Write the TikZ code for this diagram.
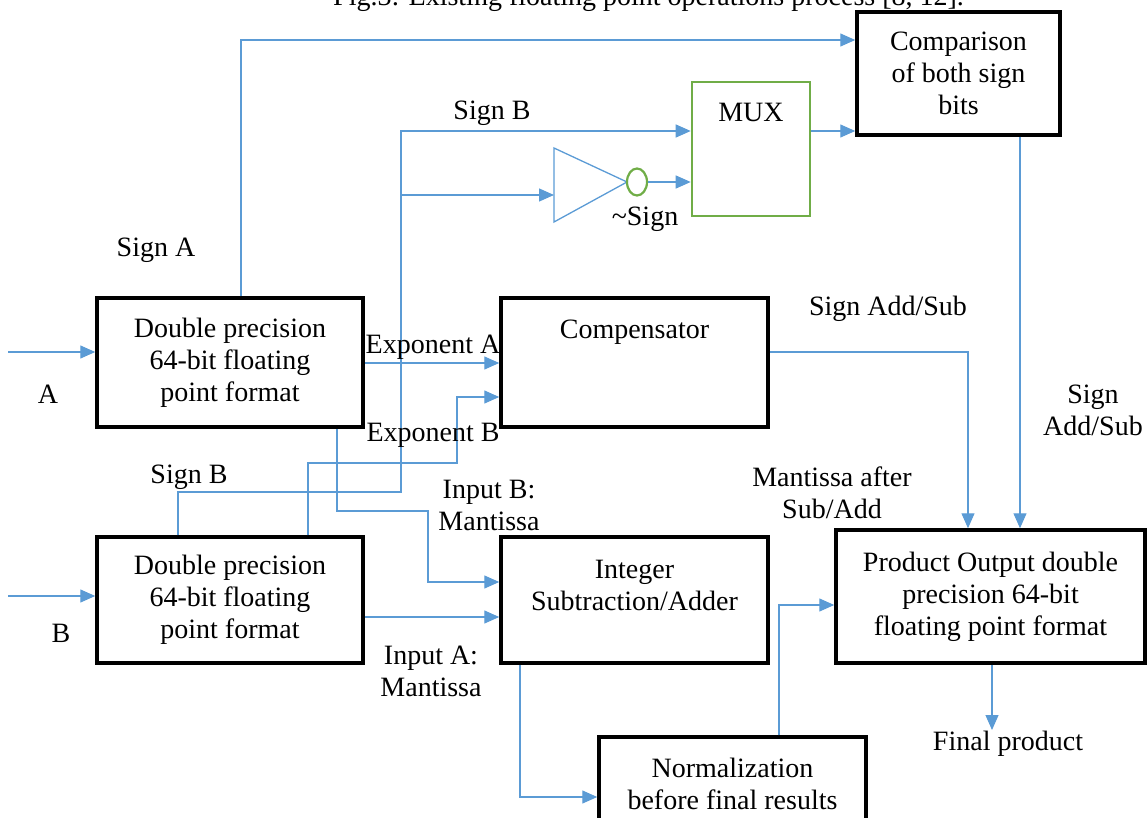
\documentclass[tikz,border=0pt]{standalone}
\usepackage{fontspec}
\setmainfont{Liberation Serif}
\usetikzlibrary{arrows.meta,shapes.geometric}
\definecolor{flowblue}{HTML}{5B9BD5}
\definecolor{muxgreen}{HTML}{70AD47}
\begin{document}
\begin{tikzpicture}[x=1pt,y=-1pt,
  font=\fontsize{28}{32}\selectfont,
  blk/.style={draw=black, line width=3.5pt, inner sep=0pt, align=center},
  wire/.style={draw=flowblue, line width=1.3pt},
  flow/.style={wire, -{Triangle[length=15pt,width=13pt]}},
  lbl/.style={inner sep=0pt, align=center},
]
\useasboundingbox (0,0) rectangle (1148,818);
\clip (0,0) rectangle (1148,818);

% caption (runs off the top edge)
\node[lbl, anchor=base west] (cap) at (333,6) {Fig.3: Existing floating point operations process [8, 12].};

% processing blocks
\node[blk, minimum width=266, minimum height=129] (fa) at (230,362.5) {Double precision\\64-bit floating\\point format};
\node[blk, minimum width=266, minimum height=126] (fb) at (230,600) {Double precision\\64-bit floating\\point format};
\node[blk, minimum width=267, minimum height=129] (comp) at (634.5,362.5) {};
\node[lbl] (compT) at (634.5,332) {Compensator};
\node[blk, minimum width=267, minimum height=126] (intg) at (634.5,600) {};
\node[lbl] (intgT) at (634.5,585) {Integer\\Subtraction/Adder};
\node[blk, minimum width=267, minimum height=85] (norm) at (732.5,779.5) {};
\node[lbl] (normT) at (732.5,784) {Normalization\\before final results};
\node[blk, minimum width=309, minimum height=133] (prod) at (990.5,596.5) {Product Output double\\precision 64-bit\\floating point format};
\node[blk, minimum width=203, minimum height=123] (cmpr) at (958.5,73.5) {Comparison\\of both sign\\bits};
\node[draw=muxgreen, line width=2.6pt, inner sep=0pt, minimum width=118, minimum height=134] (mux) at (751,149) {};
\node[lbl] (muxT) at (751,112) {MUX};

% inverter with output bubble
\coordinate (invIn) at (554,195);
\draw[wire] (554,148) -- (554,222) -- (627,182) -- cycle;
\node[ellipse, draw=muxgreen, line width=2.2pt, inner sep=0pt, minimum width=20, minimum height=27] (bub) at (637,182) {};
\node[lbl] (notT) at (645,219) {\textasciitilde Sign};

% external inputs
\coordinate (inA) at (8,352);
\coordinate (inB) at (8,596);
\draw[flow] (inA) -- (fa.west |- inA);
\draw[flow] (inB) -- (fb.west |- inB);
\node[lbl] (lA) at (48,394) {A};
\node[lbl] (lB) at (61,633) {B};

% sign paths
\draw[flow] (241,0 |- fa.north) |- (cmpr.west |- 0,40);
\node[lbl] (lSA) at (156,250) {Sign A};
\coordinate (sbj) at (401,195);
\draw[flow] (178,0 |- fb.north) |- (401,492) |- (mux.west |- 0,131);
\draw[flow] (sbj) -- (invIn);
\node[lbl] (lSB1) at (492,113) {Sign B};
\node[lbl] (lSB2) at (189,477) {Sign B};
\draw[flow] (bub.east) -- (mux.west |- bub.east);
\draw[flow] (mux.east |- 0,131) -- (cmpr.west |- 0,131);

% exponents
\draw[flow] (fa.east |- 0,363) -- (comp.west |- 0,363);
\node[lbl] (lEA) at (433,347) {Exponent A};
\draw[flow] (308,0 |- fb.north) |- (457,463) |- (comp.west |- 0,397);
\node[lbl] (lEB) at (433,435) {Exponent B};

% mantissas
\draw[flow] (337,0 |- fa.south) |- (428,511) |- (intg.west |- 0,582);
\node[lbl] (lIB) at (489,505) {Input B:\\Mantissa};
\draw[flow] (fb.east |- 0,617) -- (intg.west |- 0,617);
\node[lbl] (lIA) at (431,671) {Input A:\\Mantissa};
\draw[flow] (520,0 |- intg.south) |- (norm.west |- 0,797);
\draw[flow] (779,0 |- norm.north) |- (prod.west |- 0,605);
\node[lbl] (lMS) at (832,493) {Mantissa after\\Sub/Add};

% sign results into the output block
\draw[flow] (comp.east |- 0,352) -| (968,0 |- prod.north);
\node[lbl] (lSAS1) at (888,309) {Sign Add/Sub};
\draw[flow] (1020,0 |- cmpr.south) -- (1020,0 |- prod.north);
\node[lbl] (lSAS2) at (1093,410) {Sign\\Add/Sub};

% final output
\coordinate (fin) at (992,730);
\draw[flow] (992,0 |- prod.south) -- (fin);
\node[lbl] (lFP) at (1008,744) {Final product};
\end{tikzpicture}
\end{document}
